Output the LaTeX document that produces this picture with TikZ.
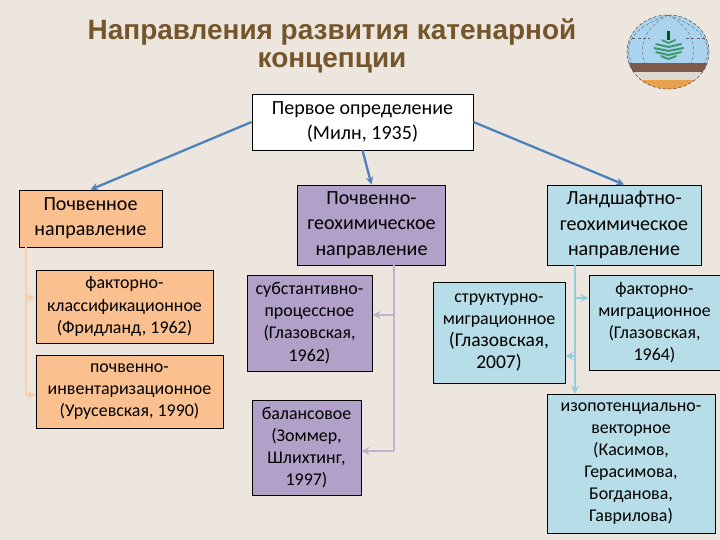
\documentclass[tikz,border=0pt]{standalone}
\usepackage{xcolor}
\usepackage{fontspec}
\setmainfont{Carlito}
\newfontfamily\titlefont{Liberation Sans}
\usetikzlibrary{calc, positioning}
\definecolor{bgpage}{HTML}{ECE6DE}
\definecolor{titlebrown}{HTML}{75552A}
\definecolor{soilfill}{HTML}{FAC08F}
\definecolor{geofill}{HTML}{B1A0C7}
\definecolor{landfill}{HTML}{B7DDE8}
\definecolor{mainline}{HTML}{4F81BD}
\definecolor{soilline}{HTML}{F5CFAE}
\definecolor{geoline}{HTML}{BDB2CC}
\definecolor{landline}{HTML}{92CDDC}
\definecolor{logosky}{HTML}{A9D3EE}
\definecolor{logobrown}{HTML}{7E5A48}
\definecolor{logogray}{HTML}{DEDAD2}
\definecolor{logoorange}{HTML}{E9A24B}
\definecolor{logotree}{HTML}{3A9A6A}

\begin{document}
\begin{tikzpicture}[
  x=0.03333cm, y=-0.03333cm, >=stealth,
  bigtext/.style={font=\fontsize{19}{24}\selectfont},
  smalltext/.style={font=\fontsize{17}{21}\selectfont},
  box/.style={draw=black, line width=0.7pt, align=center, inner sep=0pt},
  soil/.style={box, fill=soilfill},
  geo/.style={box, fill=geofill},
  land/.style={box, fill=landfill},
  main/.style={->, mainline, line width=2.2pt},
  branch/.style={->, line width=2.4pt}]
  \useasboundingbox[fill=bgpage] (0,0) rectangle (720,540);
  % заголовок
  \node[align=center, text=titlebrown, font=\titlefont\bfseries\fontsize{26.5}{26.5}\selectfont] (title) at (332,46)
    {Направления развития катенарной\\концепции};
  % логотип
  \begin{scope}
    \clip (668,52) ellipse (41 and 37);
    \fill[logosky] (620,10) rectangle (720,64);
    \fill[logobrown] (620,63) rectangle (720,72);
    \fill[logogray] (620,72) rectangle (720,80);
    \fill[logoorange] (620,80) rectangle (720,95);
    \draw[black!60, densely dashed, line width=0.4pt] (668,15) .. controls (640,30) and (640,50) .. (645,64);
    \draw[black!60, densely dashed, line width=0.4pt] (668,15) .. controls (696,30) and (696,50) .. (691,64);
    \draw[black!60, densely dashed, line width=0.4pt] (668,15) .. controls (625,30) and (625,50) .. (632,64);
    \draw[black!60, densely dashed, line width=0.4pt] (668,15) .. controls (711,30) and (711,50) .. (704,64);
    \draw[black!60, densely dashed, line width=0.4pt] (627,38) -- (650,38) (686,38) -- (709,38);
  \end{scope}
  \draw[black!70, densely dashed, line width=0.5pt] (668,52) ellipse (41 and 37);
  \fill[green!35!black] (667,31) rectangle (670,40);
  \foreach \yy/\ww in {41/7, 45/13, 49/15, 53/13, 57/8}
    \fill[logotree] (668.5-\ww,\yy-2) -- (668.5,\yy+1) -- (668.5+\ww,\yy-2) -- (668.5+\ww,\yy) -- (668.5,\yy+3) -- (668.5-\ww,\yy) -- cycle;
  % корень
  \node[box, bigtext, fill=white, minimum width=7.37cm, minimum height=1.87cm] (root) at (362.5,122)
    {Первое определение\\(Милн, 1935)};
  % три направления
  \node[soil, bigtext, minimum width=4.77cm, minimum height=1.9cm] (soilmain) at (90.5,218.5)
    {Почвенное\\направление};
  \node[geo, bigtext, minimum width=4.95cm, minimum height=2.67cm] (geomain) at (371.5,225)
    {Почвенно-\\геохимическое\\направление};
  \node[land, bigtext, minimum width=5.13cm, minimum height=2.67cm] (landmain) at (624,225)
    {Ландшафтно-\\геохимическое\\направление};
  % почвенная ветка
  \node[soil, smalltext, minimum width=5.9cm, minimum height=2.43cm] (soilA) at (124.5,306.5)
    {факторно-\\классификационное\\(Фридланд, 1962)};
  \node[soil, smalltext, minimum width=6.23cm, minimum height=2.43cm] (soilB) at (129.5,391.5)
    {почвенно-\\инвентаризационное\\(Урусевская, 1990)};
  % геохимическая ветка
  \node[geo, smalltext, minimum width=4.17cm, minimum height=3.2cm] (geoA) at (309.5,323)
    {субстантивно-\\процессное\\(Глазовская,\\1962)};
  \node[geo, smalltext, minimum width=3.63cm, minimum height=3.17cm] (geoB) at (306.5,447.5)
    {балансовое\\(Зоммер,\\Шлихтинг,\\1997)};
  % ландшафтная ветка
  \node[land, smalltext, minimum width=4.4cm, minimum height=3.37cm] (landA) at (499,332.5)
    {структурно-\\миграционное\\{\fontsize{18.5}{22}\selectfont (Глазовская,}\\{\fontsize{18.5}{22}\selectfont 2007)}};
  \node[land, smalltext, minimum width=4.37cm, minimum height=3.17cm] (landB) at (654.5,322.5)
    {факторно-\\миграционное\\(Глазовская,\\1964)};
  \node[land, smalltext, minimum width=5.6cm, minimum height=4.63cm] (landC) at (631,463.5)
    {изопотенциально-\\векторное\\(Касимов,\\Герасимова,\\Богданова,\\Гаврилова)};
  % стрелки от корня
  \draw[main] (root.west) -- (soilmain.north);
  \draw[main] (root.south) -- (geomain.north);
  \draw[main] (root.east) -- (landmain.north);
  % стрелки веток
  \coordinate (soilspine) at (soilmain.south -| 26,0);
  \coordinate (geospine) at (geomain.south -| 394,0);
  \coordinate (landspine) at (landmain.south -| 575,0);
  \coordinate (soilend) at (26,395);
  \coordinate (geoend) at (394,451);
  \draw[soilline, line width=2.4pt] (soilspine) -- (soilend);
  \draw[branch, soilline] (26,298) -- (26,298 -| soilA.west);
  \draw[branch, soilline] (soilend) -- (soilend -| soilB.west);
  \draw[geoline, line width=2.4pt] (geospine) -- (geoend);
  \draw[branch, geoline] (394,315) -- (394,315 -| geoA.east);
  \draw[branch, geoline] (geoend) -- (geoend -| geoB.east);
  \draw[branch, landline] (landspine) -- (landspine |- landC.north);
  \draw[branch, landline] (575,298) -- (575,298 -| landB.west);
  \draw[branch, landline] (575,356) -- (575,356 -| landA.east);
\end{tikzpicture}
\end{document}
